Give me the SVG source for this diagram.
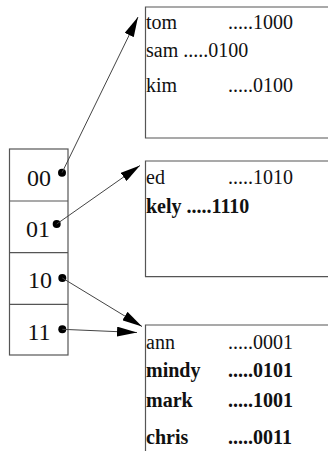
<svg xmlns="http://www.w3.org/2000/svg" width="328" height="451" viewBox="0 0 328 451">
<style>
.box{fill:none;stroke:#555;stroke-width:1.2}
.t{font-family:"Liberation Serif","Times New Roman",serif;font-size:20px;fill:#111}
.b{font-weight:bold}
.idx{font-family:"Liberation Serif","Times New Roman",serif;font-size:24px;fill:#111;text-anchor:middle}
.ln{stroke:#444;stroke-width:1;fill:none}
</style>
<defs>
<marker id="ah" viewBox="0 0 20 10" refX="20" refY="5" markerWidth="20" markerHeight="10" markerUnits="userSpaceOnUse" orient="auto">
<path d="M0,0 L20,5 L0,10 z" fill="#000"/>
</marker>
</defs>
<rect width="328" height="451" fill="#fff"/>
<g id="index">
<rect class="box" x="9.5" y="149" width="58.5" height="206"/>
<line class="box" x1="9.5" y1="201" x2="68" y2="201"/>
<line class="box" x1="9.5" y1="252.7" x2="68" y2="252.7"/>
<line class="box" x1="9.5" y1="304.3" x2="68" y2="304.3"/>
<text class="idx" x="39" y="186">00</text>
<text class="idx" x="38" y="237">01</text>
<text class="idx" x="40" y="288">10</text>
<text class="idx" x="39" y="340">11</text>
</g>
<g id="bucket1">
<path class="box" d="M330,7 H145.5 V138 H330"/>
<text class="t" x="146" y="29">tom</text>
<text class="t" x="228" y="29">.....1000</text>
<text class="t" x="146" y="57">sam .....0100</text>
<text class="t" x="146" y="92">kim</text>
<text class="t" x="228" y="92">.....0100</text>
</g>
<g id="bucket2">
<path class="box" d="M330,161 H145.5 V276.7 H330"/>
<text class="t" x="146" y="183.5">ed</text>
<text class="t" x="228" y="183.5">.....1010</text>
<text class="t b" x="146" y="212.5">kely .....1110</text>
</g>
<g id="bucket3">
<path class="box" d="M330,325 H145.5 V455"/>
<text class="t" x="146" y="348.5">ann</text>
<text class="t" x="228" y="348.5">.....0001</text>
<text class="t b" x="146" y="376.5">mindy</text>
<text class="t b" x="228" y="376.5">.....0101</text>
<text class="t b" x="146" y="407">mark</text>
<text class="t b" x="228" y="407">.....1001</text>
<text class="t b" x="146" y="444">chris</text>
<text class="t b" x="228" y="444">.....0011</text>
</g>
<g id="connectors">
<circle cx="62" cy="172.7" r="4" fill="#000"/>
<circle cx="56.7" cy="224" r="4" fill="#000"/>
<circle cx="62.3" cy="278" r="4" fill="#000"/>
<circle cx="62.3" cy="329.3" r="4" fill="#000"/>
<line class="ln" x1="62" y1="172.7" x2="138" y2="17" marker-end="url(#ah)"/>
<line class="ln" x1="56.7" y1="224" x2="140" y2="165.5" marker-end="url(#ah)"/>
<line class="ln" x1="62.3" y1="278" x2="142" y2="326.5" marker-end="url(#ah)"/>
<line class="ln" x1="62.3" y1="329.3" x2="137" y2="332.5" marker-end="url(#ah)"/>
</g>
</svg>
